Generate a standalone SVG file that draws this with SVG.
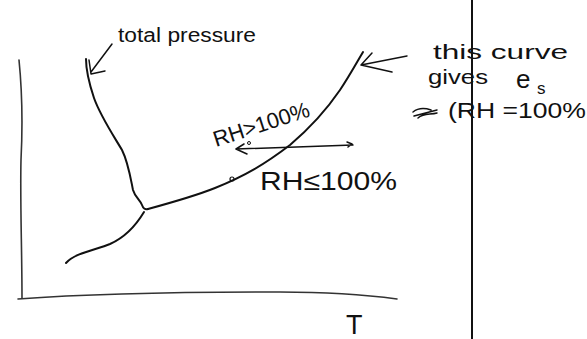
<svg xmlns="http://www.w3.org/2000/svg" width="587" height="339" viewBox="0 0 587 339">
<style>
.ln{fill:none;stroke:#111;stroke-width:2;stroke-linecap:round;stroke-linejoin:round}
.ax{fill:none;stroke:#333;stroke-width:1.6;stroke-linecap:round}
.thin{fill:none;stroke:#111;stroke-width:1.5;stroke-linecap:round;stroke-linejoin:round}
.t{font-family:"Liberation Sans","DejaVu Sans",sans-serif;fill:#111}
</style>
<rect width="587" height="339" fill="#fff"/>
<g id="axes">
<path class="ax" d="M19,60 C22,90 23,120 21,160 C20,200 22,250 22,298"/>
<path class="ax" d="M18,299 C100,293 200,292 280,292 C330,292 360,294 397,299"/>
</g>
<g id="curves">
<path class="ln" d="M86,59 C86,70 88,80 94,98 C100,115 110,130 122,150 C128,162 130,175 133,190 C135,197 140,200 142,205 C143,208 145,210 148,209"/>
<path class="ln" d="M148,209 C170,203 195,196 215,188 C245,176 265,164 290,145 C310,128 325,112 340,90 C350,75 357,62 363,52"/>
<path class="ln" d="M144,212 C138,222 128,236 110,244 C95,250 75,253 66,263"/>
<circle cx="232" cy="179" r="2" fill="none" stroke="#111" stroke-width="1.2"/>
</g>
<g id="connectors">
<path class="thin" d="M112,44 L91,72 M89,60 L91,74 L105,71"/>
<path class="thin" d="M407,56 L361,65 M372,53 L361,65 L392,72"/>
<path class="thin" d="M353,145 L236,149 M244,144 L236,149 L247,154 M347,142 L352,144 L348,147"/>
<circle cx="249" cy="143" r="1.5" fill="none" stroke="#111" stroke-width="1"/>
</g>
<g id="label-total-pressure">
<text class="t" x="118" y="42" font-size="20" textLength="138" lengthAdjust="spacingAndGlyphs">total pressure</text>
</g>
<g id="label-curve-es">
<text class="t" x="433" y="59" font-size="20" textLength="135" lengthAdjust="spacingAndGlyphs">this curve</text>
<text class="t" x="428" y="84" font-size="20" textLength="60" lengthAdjust="spacingAndGlyphs">gives</text>
<text class="t" x="516" y="88" font-size="26">e</text>
<text class="t" x="537" y="94" font-size="17">s</text>
<path class="thin" d="M413,112 C418,108 425,108 431,110 M414,116 L437,110 M418,118 C424,113 430,115 437,113"/>
<text class="t" x="448" y="118" font-size="22" textLength="138" lengthAdjust="spacingAndGlyphs">(RH =100%</text>
</g>
<g id="label-rh-gt">
<text class="t" x="216" y="147" font-size="22" textLength="100" lengthAdjust="spacingAndGlyphs" transform="rotate(-18 216 147)">RH&gt;100%</text>
</g>
<g id="label-rh-le">
<text class="t" x="260" y="190" font-size="26" textLength="137" lengthAdjust="spacingAndGlyphs">RH≤100%</text>
</g>
<g id="label-T">
<text class="t" x="346" y="334" font-size="27">T</text>
</g>
<path d="M472,0 L472,339" stroke="#111" stroke-width="2"/>
</svg>
